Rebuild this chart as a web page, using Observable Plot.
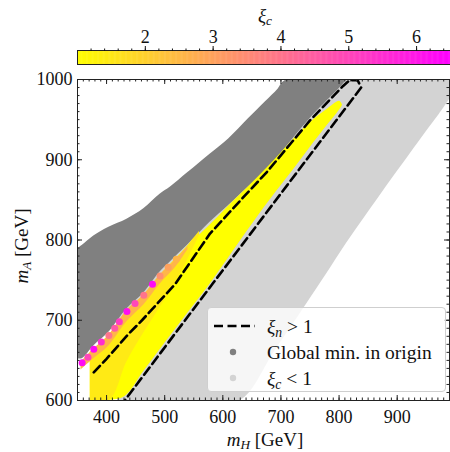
<!DOCTYPE html>
<html><head><meta charset="utf-8">
<script src="https://cdn.jsdelivr.net/npm/d3@7"></script>
<script src="https://cdn.jsdelivr.net/npm/@observablehq/plot@0.6"></script>
<style>
body{margin:0;background:#fff;}
#wrap{position:relative;width:450px;height:452px;overflow:hidden;font-family:"Liberation Serif",serif;color:#111;}
#wrap svg{display:block;overflow:visible;}
.lbl{position:absolute;font-size:19px;white-space:nowrap;line-height:1;}
.lbl sub{font-size:70%;vertical-align:-0.3em;line-height:0;}
#legend{position:absolute;left:207px;top:307px;width:239px;height:85px;box-sizing:border-box;border:1px solid #cfcfcf;border-radius:4px;background:rgba(255,255,255,0.8);}
#legend .row{position:absolute;left:0;font-size:19.5px;white-space:nowrap;line-height:1;}
#legend sub{font-size:70%;vertical-align:-0.3em;line-height:0;}
</style></head><body><div id="wrap"></div>
<script>
// ---- data ----
const colorDomain = [1, 6.5];
const cbTicks = [2, 3, 4, 5, 6];
const xTicks = [400, 500, 600, 700, 800, 900];
const yTicks = [600, 700, 800, 900, 1000];

// light gray cloud: xi_c < 1
const lightH    = [420, 480, 560, 630, 690, 744, 778, 813, 847, 881, 921, 950, 972, 990];
const lightLow  = [600, 600, 600, 600, 662, 720, 757, 796, 831, 866, 906, 935, 956, 975];
const lightHigh = [700, 760, 830, 870, 910, 960, 985, 1000, 1000, 1000, 1000, 1000, 1000, 1000];

// dark gray cloud: global minimum in origin
const darkH    = [350, 358, 378, 404, 435, 464, 492, 510, 540, 578, 610, 644, 673, 695, 704, 750, 807, 815];
const darkLow  = [652, 652, 668, 685, 714, 734, 760, 773, 794, 822, 843, 866, 886, 903, 911, 951, 994, 1002];
const darkHigh = [789, 793, 805, 816, 826, 839, 857, 866, 884, 907, 926, 951, 972, 988, 997, 1010, 1010, 1010];

// coloured cloud (xi_c > 1), mostly yellow
const yellowH    = [372, 404, 432, 464, 500, 540, 583, 618, 652, 692, 721, 750, 778, 801, 806];
const yellowLow  = [600, 600, 605, 636, 671, 709, 750, 786, 821, 860, 887, 915, 941, 962, 968];
const yellowHigh = [660, 681, 707, 731, 762, 792, 822, 848, 872, 902, 925, 946, 962, 973, 968];
const yellowXi = 1.0;

const paleH    = [372, 405, 435, 464, 492, 520, 560];
const paleLow  = [600, 600, 648, 684, 716, 748, 806];
const paleHigh = [660, 681, 712, 731, 756, 776, 811];
const paleXi = 1.45;

const warmH    = [356, 378, 404, 435, 464, 492, 520, 540];
const warmLow  = [638, 652, 668, 698, 719, 745, 767, 788];
const warmHigh = [648, 664, 681, 712, 731, 756, 776, 792];
const warmXi = 2.6;

// strongest points along the upper edge
const hotH  = [358, 368, 378, 391, 404, 414, 422, 435, 449, 464, 479, 492, 506, 520];
const hotA  = [647, 654, 664, 673, 681, 690, 698, 711, 721, 731, 745, 755, 766, 776];
const hotXi = [6.3, 5.0, 6.3, 5.5, 4.0, 4.6, 5.2, 6.2, 5.0, 4.0, 6.3, 3.4, 3.0, 2.6];

// xi_n > 1 contour (closed at the top)
const dashH = [378, 400, 438, 461, 518, 578, 635, 675, 750, 807, 818, 832, 838, 583, 427];
const dashA = [635, 652, 683, 700, 745, 808, 853, 884, 949, 992, 999, 999, 990, 746, 596];

// ---- build ----
const band = (H, lo, hi) => H.map((h, i) => ({h, lo: lo[i], hi: hi[i]}));
const hot = hotH.map((h, i) => ({h, a: hotA[i], xi: hotXi[i]}));
const dash = dashH.map((h, i) => ({h, a: dashA[i]}));

const colorOpts = {type: "linear", domain: colorDomain, range: ["#ffff00", "#ff00ff"], interpolate: "rgb"};
const font = {fontFamily: "'Liberation Serif', serif", fontSize: "18px", color: "#111", background: "transparent"};
const fmt = d3.format("d");

const wrap = document.getElementById("wrap");

// colour bar
const step = 0.0125;
const cbVals = d3.range(colorDomain[0], colorDomain[1], step);
const cb = Plot.plot({
  width: 450, height: 72,
  marginTop: 50, marginBottom: 8, marginLeft: 77, marginRight: 0,
  style: font,
  x: {domain: colorDomain},
  color: colorOpts,
  marks: [
    Plot.rect(cbVals, {x1: d => d, x2: d => Math.min(d + step * 1.6, colorDomain[1]), fill: d => d + step / 2}),
    Plot.frame({stroke: "#222", strokeWidth: 1}),
    Plot.axisX({anchor: "top", ticks: d3.range(1.2, 6.5, 0.2), tickSize: 2.5, tickFormat: () => "", label: null}),
    Plot.axisX({anchor: "top", ticks: cbTicks, tickSize: 5, tickPadding: 3, tickFormat: fmt, label: null, fontSize: 18})
  ]
});
wrap.appendChild(cb);

// main panel geometry (pixels)
const W = 450, H = 380, mT = 7, mB = 52, mL = 77, mR = 1;
const fw = W - mL - mR, fh = H - mT - mB;
const minorX = d3.range(350, 991, 10), minorY = d3.range(600, 1001, 10);
const tick = {stroke: "#222", strokeWidth: 1};
const soft = {x: "h", y1: "lo", y2: "hi", curve: "catmull-rom", clip: true};

const main = Plot.plot({
  width: W, height: H,
  marginTop: mT, marginBottom: mB, marginLeft: mL, marginRight: mR,
  style: font,
  x: {domain: [350, 990]},
  y: {domain: [600, 1000]},
  color: colorOpts,
  marks: [
    Plot.areaY(band(lightH, lightLow, lightHigh), {...soft, fill: "#d3d3d3"}),
    Plot.areaY(band(darkH, darkLow, darkHigh), {...soft, fill: "#808080"}),
    Plot.areaY(band(yellowH, yellowLow, yellowHigh), {...soft, fill: () => yellowXi}),
    Plot.areaY(band(paleH, paleLow, paleHigh), {...soft, fill: () => paleXi}),
    Plot.areaY(band(warmH, warmLow, warmHigh), {...soft, fill: () => warmXi}),
    Plot.dot(hot, {x: "h", y: "a", fill: "xi", r: 3.5, clip: true}),
    Plot.line(dash, {x: "h", y: "a", stroke: "#000", strokeWidth: 2.6, strokeDasharray: "9,4.5", clip: true}),
    Plot.frame({stroke: "#222", strokeWidth: 1}),
    // inward ticks on all four sides (minor every 10, major every 100)
    Plot.ruleX(minorX, {x: d => d, insetTop: fh - 2.5, ...tick}),
    Plot.ruleX(minorX, {x: d => d, insetBottom: fh - 2.5, ...tick}),
    Plot.ruleX(xTicks, {x: d => d, insetTop: fh - 5, ...tick}),
    Plot.ruleX(xTicks, {x: d => d, insetBottom: fh - 5, ...tick}),
    Plot.ruleY(minorY, {y: d => d, insetRight: fw - 2.5, ...tick}),
    Plot.ruleY(minorY, {y: d => d, insetLeft: fw - 2.5, ...tick}),
    Plot.ruleY(yTicks, {y: d => d, insetRight: fw - 5, ...tick}),
    Plot.ruleY(yTicks, {y: d => d, insetLeft: fw - 5, ...tick}),
    Plot.axisX({anchor: "bottom", ticks: xTicks, tickSize: 0, tickPadding: 10, tickFormat: fmt, label: null, fontSize: 18}),
    Plot.axisY({anchor: "left", ticks: yTicks, tickSize: 0, tickPadding: 5, tickFormat: fmt, label: null, fontSize: 18})
  ]
});
wrap.appendChild(main);

// titles / labels (HTML so sub-scripts render)
function addLabel(html, x, y, rotate) {
  const d = document.createElement("div");
  d.className = "lbl";
  d.innerHTML = html;
  d.style.left = x + "px";
  d.style.top = y + "px";
  d.style.transform = "translate(-50%,-50%)" + (rotate ? " rotate(-90deg)" : "");
  wrap.appendChild(d);
}
addLabel("<i>ξ</i><sub><i>c</i></sub>", 265, 15);
addLabel("<i>m</i><sub><i>H</i></sub> [GeV]", 265, 439);
addLabel("<i>m</i><sub><i>A</i></sub> [GeV]", 21, 246, true);

// legend
const legendEntries = [
  {kind: "line", html: "<i>ξ</i><sub><i>n</i></sub> &gt; 1"},
  {kind: "dot", color: "#808080", html: "Global min. in origin"},
  {kind: "dot", color: "#d3d3d3", html: "<i>ξ</i><sub><i>c</i></sub> &lt; 1"}
];
const lg = document.createElement("div");
lg.id = "legend";
legendEntries.forEach((e, i) => {
  const cy = 18 + i * 26;
  const sym = document.createElementNS("http://www.w3.org/2000/svg", "svg");
  sym.setAttribute("width", 50); sym.setAttribute("height", 12);
  sym.style.position = "absolute"; sym.style.left = "5px"; sym.style.top = (cy - 6) + "px";
  if (e.kind === "line") {
    sym.innerHTML = '<line x1="1" y1="6" x2="42" y2="6" stroke="#000" stroke-width="2.6" stroke-dasharray="9,4.5"/>';
  } else {
    sym.innerHTML = `<circle cx="20" cy="6" r="3.2" fill="${e.color}"/>`;
  }
  lg.appendChild(sym);
  const t = document.createElement("div");
  t.className = "row";
  t.innerHTML = e.html;
  t.style.left = "59px";
  t.style.top = (cy - 9) + "px";
  lg.appendChild(t);
});
wrap.appendChild(lg);
</script>
</body></html>
